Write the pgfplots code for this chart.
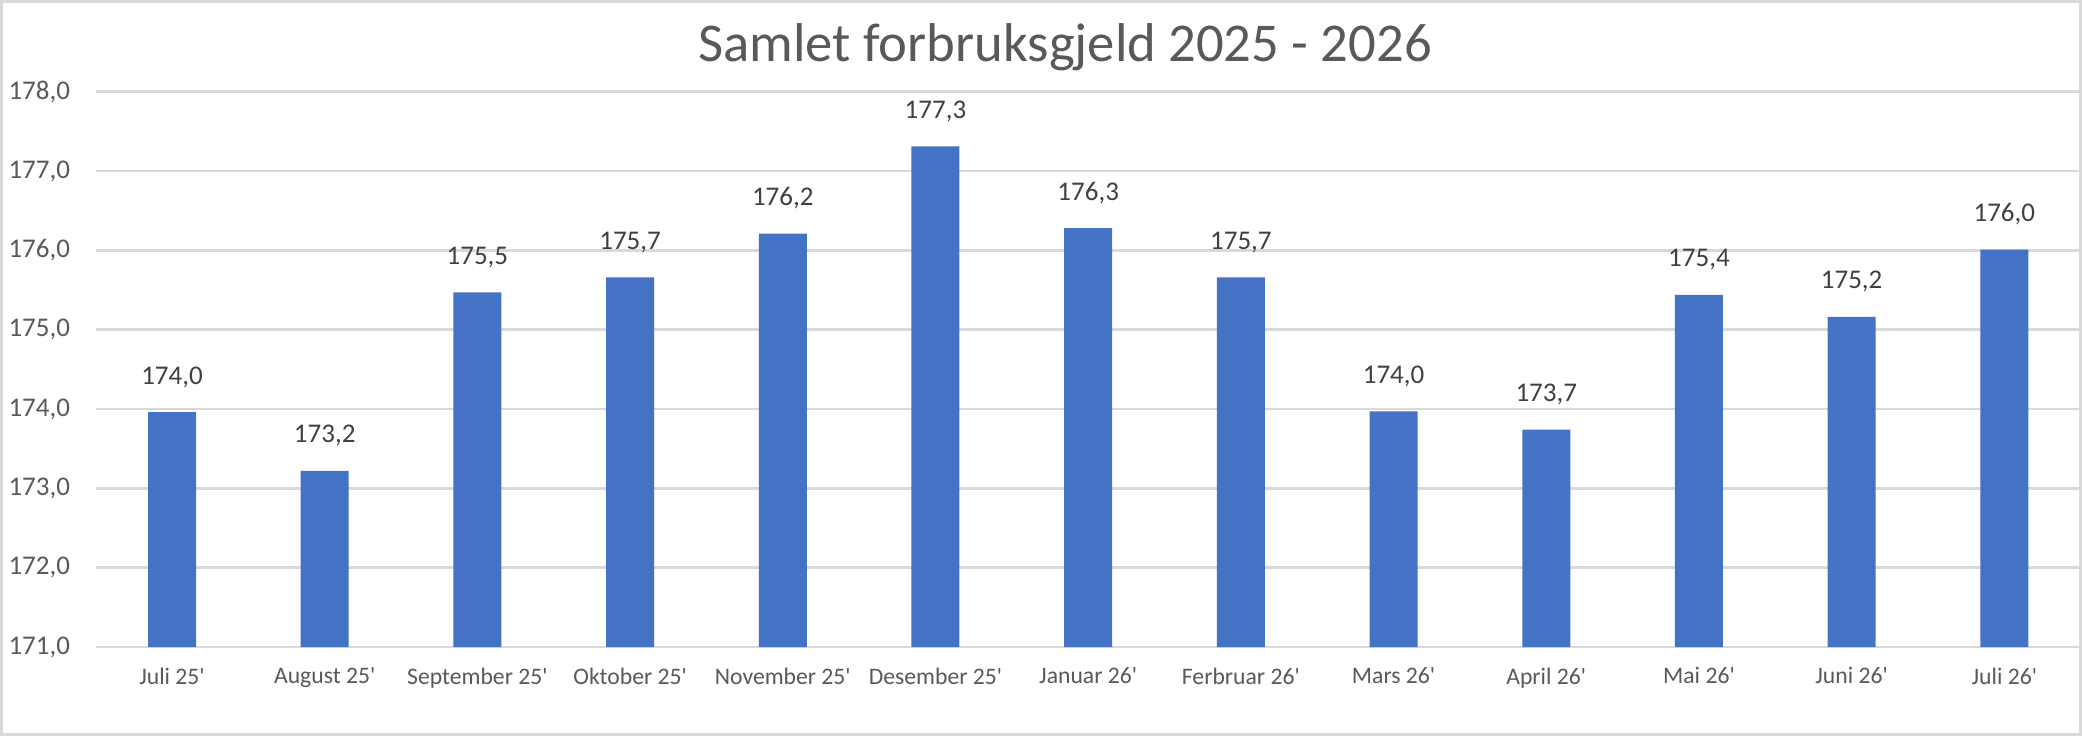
\documentclass[border=0pt]{standalone}
\usepackage{pgfplots}
\pgfplotsset{compat=1.18}
\usepackage{fontspec}
\setmainfont{Carlito}[Ligatures=TeXOff]

\definecolor{barblue}{HTML}{4472C4}
\definecolor{gridgray}{HTML}{D9D9D9}
\definecolor{txtgray}{HTML}{595959}
\definecolor{lblgray}{HTML}{404040}

\begin{document}
\begin{tikzpicture}
	\useasboundingbox (0,0) rectangle (624.6pt,220.8pt);
	\fill[white] (0,0) rectangle (624.6pt,220.8pt);
	\begin{axis}[
		at={(28.7pt,26.7pt)}, anchor=south west,
		scale only axis, width=595.5pt, height=166.6pt,
		ybar, bar width=14.4pt,
		xmin=-0.5, xmax=12.5, ymin=171, ymax=178,
		enlargelimits=false, clip=false,
		xtick=data,
		xticklabels={Juli 25', August 25', September 25', Oktober 25',
			November 25', Desember 25', Januar 26', Ferbruar 26',
			Mars 26', April 26', Mai 26', Juni 26', Juli 26'},
		ytick={171,172,...,178},
		scaled y ticks=false,
		ymajorgrids,
		grid style={gridgray, line width=0.75pt},
		axis line style={draw=none},
		major tick length=0pt,
		/pgf/number format/fixed,
		/pgf/number format/fixed zerofill,
		/pgf/number format/precision=1,
		/pgf/number format/use comma,
		/pgf/number format/assume math mode=true,
		yticklabel style={anchor=east, inner sep=0pt, xshift=-7.5pt,
			font=\fontsize{8.1}{9.5}\selectfont, text=txtgray},
		xticklabel style={anchor=north, inner sep=0pt, yshift=-6pt,
			font=\fontsize{7.1}{8.5}\selectfont, text=txtgray},
		nodes near coords,
		nodes near coords style={anchor=base, inner sep=0pt, yshift=8.4pt,
			font=\fontsize{8.1}{9.5}\selectfont, text=lblgray},
	]
	% Samlet forbruksgjeld per maaned
	\addplot[fill=barblue, draw=none] coordinates {
		( 0, 173.96)
		( 1, 173.22)
		( 2, 175.47)
		( 3, 175.66)
		( 4, 176.21)
		( 5, 177.31)
		( 6, 176.28)
		( 7, 175.66)
		( 8, 173.97)
		( 9, 173.74)
		(10, 175.44)
		(11, 175.16)
		(12, 176.01)
	};
	\end{axis}
	\node[anchor=base, inner sep=0pt, text=txtgray,
		font=\fontsize{16.4}{19}\selectfont] at (319.5pt,202.5pt)
		{Samlet forbruksgjeld 2025 - 2026};
	\draw[gridgray, line width=0.8pt] (0.4pt,0.4pt) rectangle (624.2pt,220.4pt);
\end{tikzpicture}
\end{document}
